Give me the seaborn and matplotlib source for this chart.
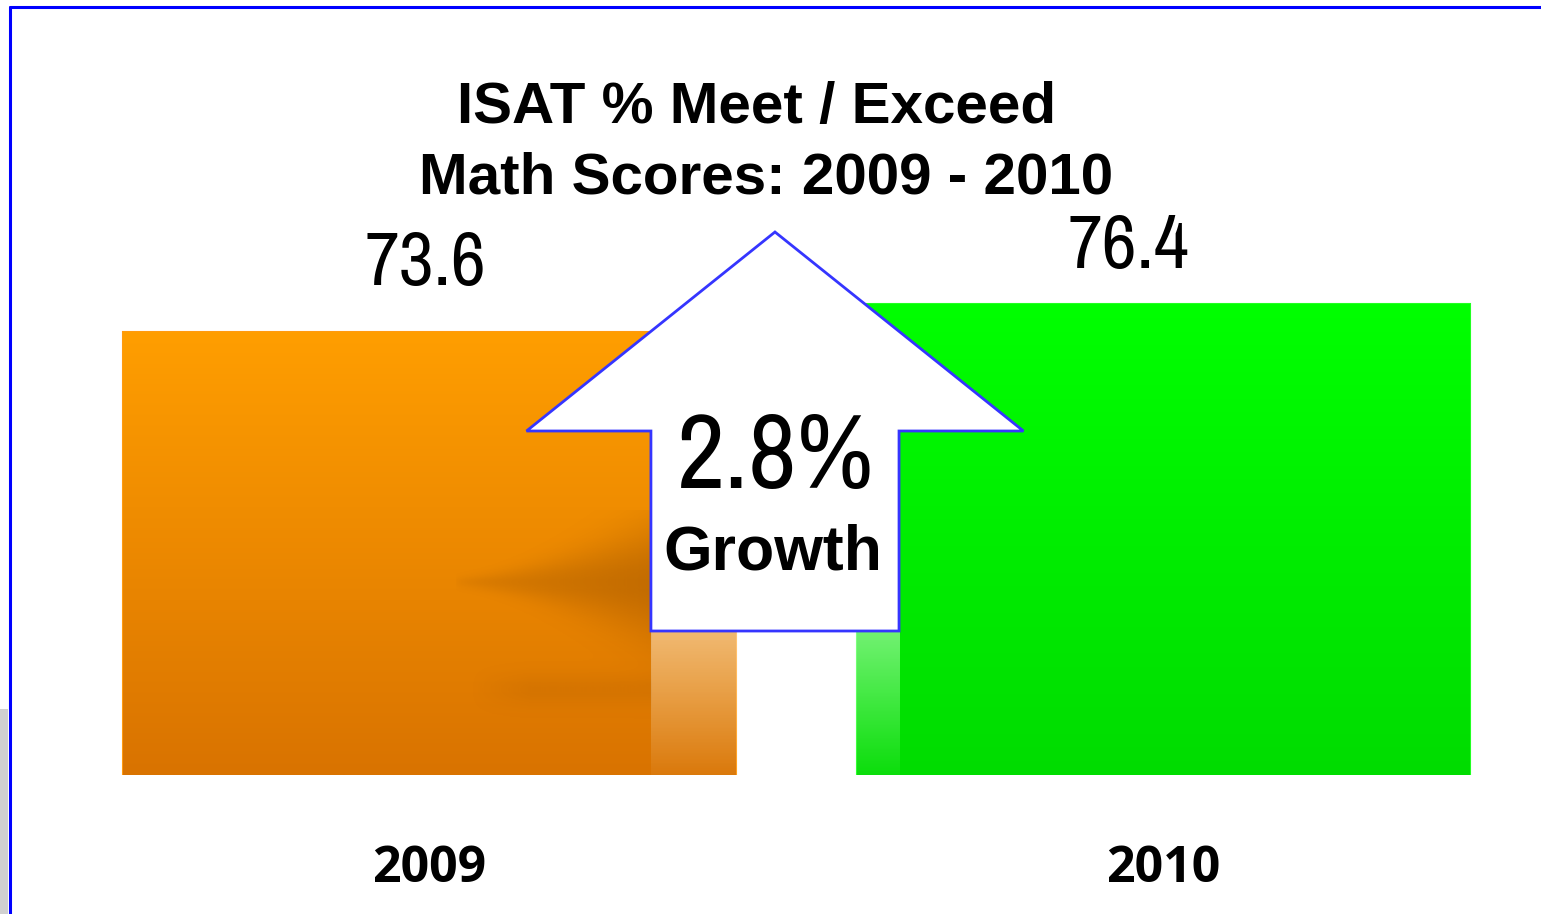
import numpy as np
import matplotlib
matplotlib.use("Agg")
import matplotlib.pyplot as plt
import matplotlib.patches as mpatches
from matplotlib import font_manager
from matplotlib.lines import Line2D
import seaborn as sns

# data
years = ["2009", "2010"]
scores = [73.6, 76.4]
growth_label = "2.8%"
growth_word = "Growth"
title_lines = ["ISAT % Meet / Exceed", "Math Scores: 2009 - 2010"]

# styles
bar_top = ["#ff9e00", "#00ff00"]
bar_bottom = ["#d97300", "#00dc00"]
bar_edge = ["#ff9a10", "#22ff22"]
label_shift = [(-4, 47), (-35, 36)]   # offset pixels of the value labels
Y0, Y1 = 29.3, 106.8
X0, X1 = -0.5851, 1.5143

sns.set_style("white")
plt.rcParams["font.family"] = ["Liberation Sans", "DejaVu Sans"]
plt.rcParams["text.color"] = "black"
plt.rcParams["xtick.color"] = "black"

# look for a narrow face for the numbers
narrow_name, narrow_stretch = None, "normal"
for f in font_manager.fontManager.ttflist:
    nm = f.name.lower()
    if ("narrow" in nm or "condensed" in nm) and f.weight in (400, "normal", "regular"):
        narrow_name = f.name
        break
if narrow_name is None:
    for f in font_manager.fontManager.ttflist:
        if f.stretch not in ("normal", 500) and f.weight in (400, "normal", "regular"):
            narrow_name, narrow_stretch = f.name, f.stretch
            break
if narrow_name is None:
    narrow = dict(family=["Liberation Sans", "DejaVu Sans"])
    scale = 0.86
else:
    narrow = dict(family=[narrow_name, "DejaVu Sans"], stretch=narrow_stretch)
    scale = 1.0

W, H = 1541, 914
fig = plt.figure(figsize=(W / 100, H / 100), dpi=100)
ax = fig.add_axes([0, 139 / H, 1, 775 / H])

sns.barplot(x=years, y=scores, hue=years, palette=bar_top, width=0.835,
            legend=False, ax=ax, saturation=1)

# vertical gradient inside each bar
for i, p in enumerate(ax.patches):
    p.set_edgecolor(bar_edge[i])
    p.set_linewidth(1.5)
    x0, w = p.get_x(), p.get_width()
    c0 = np.array(matplotlib.colors.to_rgb(bar_top[i]))
    c1 = np.array(matplotlib.colors.to_rgb(bar_bottom[i]))
    t = np.linspace(0, 1, 256)[:, None]
    grad = (c0 * (1 - t) + c1 * t)[:, None, :]
    im = ax.imshow(grad, extent=[x0, x0 + w, Y0, p.get_height()],
                   aspect="auto", zorder=2, interpolation="bilinear")
    im.set_clip_path(p)

# soft shadow on the 2009 bar
px = np.linspace(455, 651, 200)
py = np.linspace(510, 730, 220)
PX, PY = np.meshgrid(px, py)
tt = (PX - 455) / 196
hw = 6 + 50 * tt ** 1.6
a1 = 0.34 * tt ** 0.5 * np.exp(-((PY - 582) / hw) ** 2)
a2 = 0.10 * np.exp(-((PY - 690) / 16) ** 2) * np.clip((PX - 470) / 60, 0, 1)
shade = np.zeros(PX.shape + (4,))
shade[..., :3] = matplotlib.colors.to_rgb("#7a3c00")
shade[..., 3] = a1 + a2
ax.imshow(shade, extent=[(455 - 429.5) / 734, (651 - 429.5) / 734,
                         Y0 + (775 - 730) / 10, Y0 + (775 - 510) / 10],
          aspect="auto", zorder=3, origin="upper")

# arrow geometry (axis units)
ax_mid = 0.4707
shaft_w, head_w = 0.338, 0.677
arrow_base, arrow_tip, head_len = 43.7, 83.6, 19.9

# reflection under the arrow
ref = np.ones((128, 1, 4))
ref[:, 0, 3] = np.linspace(0.45, 0.05, 128)
ax.imshow(ref, extent=[ax_mid - shaft_w / 2, ax_mid + shaft_w / 2, Y0, arrow_base],
          aspect="auto", zorder=3, origin="upper")

arrow = mpatches.FancyArrow(ax_mid, arrow_base, 0, arrow_tip - arrow_base,
                            width=shaft_w, head_width=head_w, head_length=head_len,
                            length_includes_head=True, facecolor="white",
                            edgecolor="#3535ff", linewidth=2, zorder=5)
ax.add_patch(arrow)
ax.text(ax_mid + 0.001, 58.0, growth_label, ha="center", va="baseline",
        fontsize=76 * scale, zorder=6, **narrow)
ax.text(ax_mid - 0.003, 49.9, growth_word, ha="center", va="baseline",
        fontsize=45, fontweight="bold", zorder=6)

# value labels
for i, v in enumerate(scores):
    ax.annotate(f"{v:.1f}", xy=(i, v), xytext=label_shift[i],
                textcoords="offset pixels", ha="center", va="baseline",
                fontsize=55 * scale, **narrow)

ax.set_xlim(X0, X1)
ax.set_ylim(Y0, Y1)
ax.set_yticks([])
ax.set_xlabel("")
ax.set_ylabel("")
ax.tick_params(axis="x", length=0, pad=50)
for lab in ax.get_xticklabels():
    lab.set_fontsize(36)
    lab.set_fontweight("bold")
    lab.set_family(["Open Sans", "DejaVu Sans"])
sns.despine(ax=ax, left=True, bottom=True)
ax.patch.set_alpha(0)

# title
fig.text(757 / W, 1 - 123 / H, title_lines[0], ha="center", va="baseline",
         fontsize=42, fontweight="bold")
fig.text(766 / W, 1 - 193 / H, title_lines[1], ha="center", va="baseline",
         fontsize=42, fontweight="bold")

# slide frame
fig.add_artist(mpatches.Rectangle((0, 0), 8 / W, 1 - 709 / H,
                                  transform=fig.transFigure, color="#d0d0d0", lw=0))
fig.add_artist(Line2D([9.5 / W, 1], [1 - 7 / H, 1 - 7 / H], color="#0000ff", lw=2.2,
                      transform=fig.transFigure))
fig.add_artist(Line2D([9.5 / W, 9.5 / W], [0, 1 - 7 / H], color="#0000ff", lw=2.2,
                      transform=fig.transFigure))

fig.savefig("out.png", dpi=100)
